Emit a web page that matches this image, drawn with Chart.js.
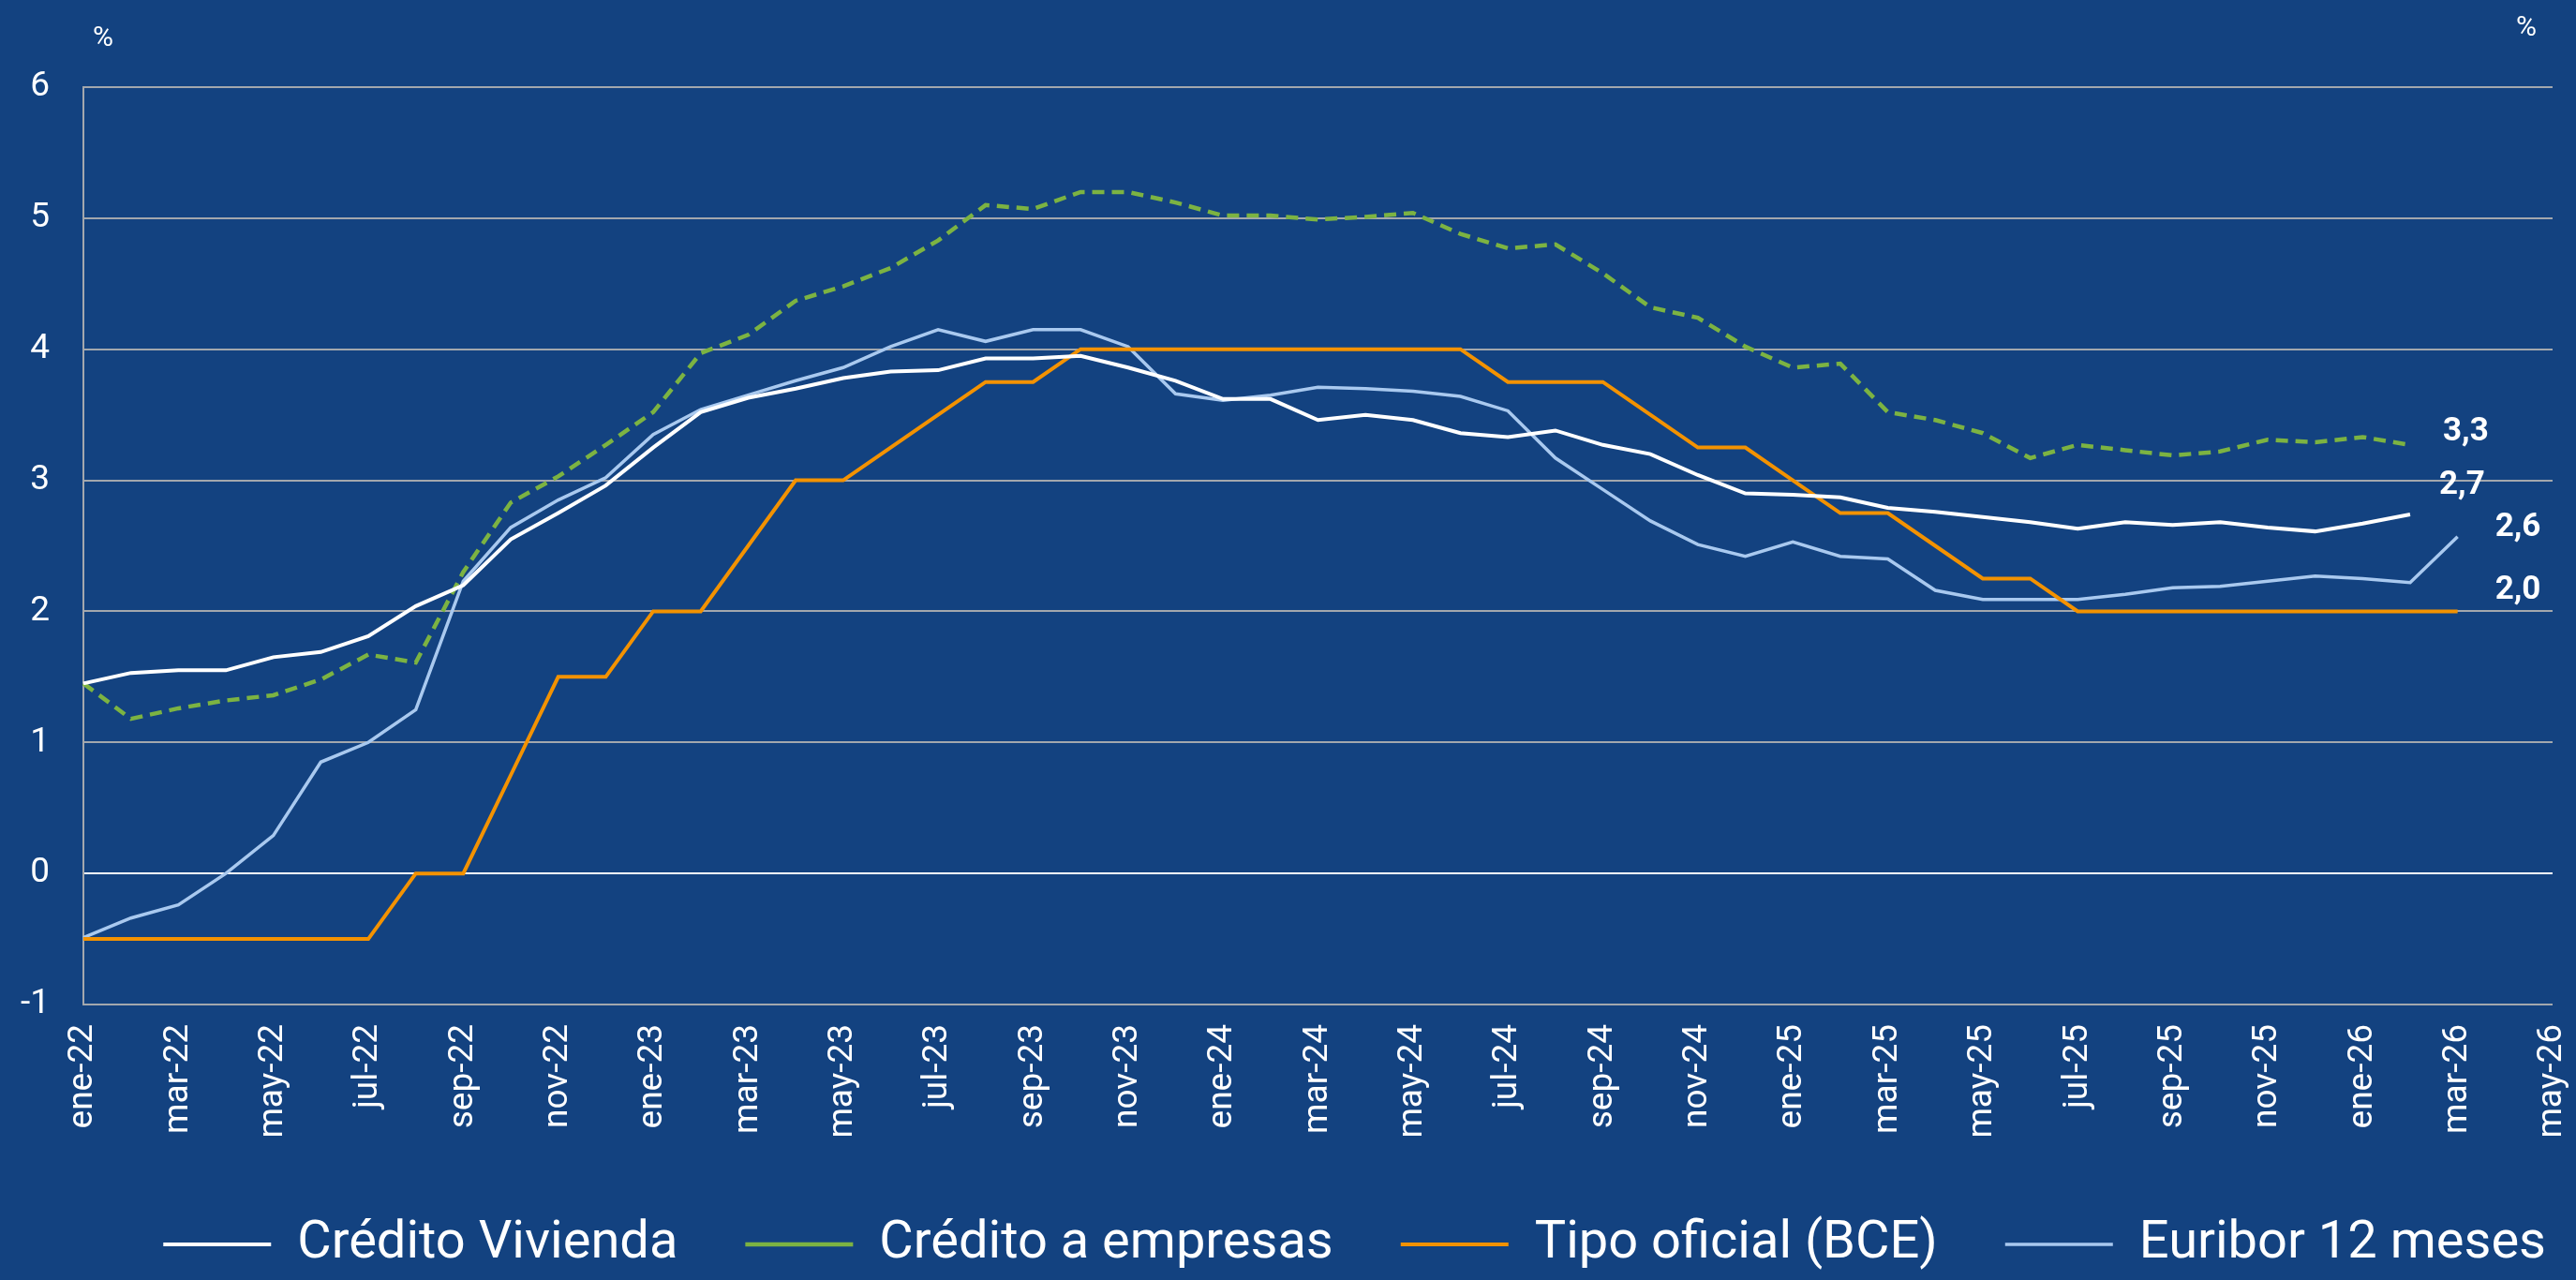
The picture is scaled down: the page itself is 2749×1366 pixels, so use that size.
<!DOCTYPE html>
<html lang="es">
<head>
<meta charset="utf-8">
<title>Tipos de interés</title>
<script src="https://cdn.jsdelivr.net/npm/chart.js@4.4.1/dist/chart.umd.min.js"></script>
<style>
  html, body { margin: 0; padding: 0; background: #134280; }
  #wrap { width: 2749px; height: 1366px; position: relative; }
</style>
</head>
<body>
<div id="wrap"><canvas id="grafico"></canvas></div>
<script>
// Meses (eje X)
const meses = [
  "ene-22","feb-22","mar-22","abr-22","may-22","jun-22","jul-22","ago-22","sep-22","oct-22","nov-22","dic-22",
  "ene-23","feb-23","mar-23","abr-23","may-23","jun-23","jul-23","ago-23","sep-23","oct-23","nov-23","dic-23",
  "ene-24","feb-24","mar-24","abr-24","may-24","jun-24","jul-24","ago-24","sep-24","oct-24","nov-24","dic-24",
  "ene-25","feb-25","mar-25","abr-25","may-25","jun-25","jul-25","ago-25","sep-25","oct-25","nov-25","dic-25",
  "ene-26","feb-26","mar-26","abr-26","may-26"
];

// Series (%)
const creditoVivienda = [
  1.45, 1.53, 1.55, 1.55, 1.65, 1.69, 1.81, 2.04, 2.20, 2.55, 2.75, 2.96,
  3.25, 3.52, 3.63, 3.70, 3.78, 3.83, 3.84, 3.93, 3.93, 3.95, 3.86, 3.76,
  3.62, 3.62, 3.46, 3.50, 3.46, 3.36, 3.33, 3.38, 3.27, 3.20, 3.04, 2.90,
  2.89, 2.87, 2.79, 2.76, 2.72, 2.68, 2.63, 2.68, 2.66, 2.68, 2.64, 2.61,
  2.67, 2.74, null, null, null
];
const creditoEmpresas = [
  1.45, 1.18, 1.26, 1.32, 1.36, 1.48, 1.67, 1.61, 2.30, 2.83, 3.03, 3.27,
  3.52, 3.97, 4.11, 4.37, 4.48, 4.62, 4.83, 5.10, 5.07, 5.20, 5.20, 5.12,
  5.02, 5.02, 4.99, 5.01, 5.04, 4.88, 4.77, 4.80, 4.58, 4.32, 4.24, 4.02,
  3.86, 3.89, 3.52, 3.46, 3.36, 3.17, 3.27, 3.23, 3.19, 3.22, 3.31, 3.29,
  3.33, 3.27, null, null, null
];
const tipoOficial = [
  -0.5, -0.5, -0.5, -0.5, -0.5, -0.5, -0.5, 0, 0, 0.75, 1.5, 1.5,
  2, 2, 2.5, 3, 3, 3.25, 3.5, 3.75, 3.75, 4, 4, 4,
  4, 4, 4, 4, 4, 4, 3.75, 3.75, 3.75, 3.5, 3.25, 3.25,
  3, 2.75, 2.75, 2.5, 2.25, 2.25, 2, 2, 2, 2, 2, 2,
  2, 2, 2, null, null
];
const euribor12 = [
  -0.49, -0.34, -0.24, 0.00, 0.29, 0.85, 1.00, 1.25, 2.23, 2.64, 2.85, 3.02,
  3.35, 3.54, 3.65, 3.76, 3.86, 4.02, 4.15, 4.06, 4.15, 4.15, 4.02, 3.66,
  3.61, 3.65, 3.71, 3.70, 3.68, 3.64, 3.53, 3.17, 2.93, 2.69, 2.51, 2.42,
  2.53, 2.42, 2.40, 2.16, 2.09, 2.09, 2.09, 2.13, 2.18, 2.19, 2.23, 2.27,
  2.25, 2.22, 2.57, null, null
];

const FONDO = "#134280";
const GRIS = "#a3a7ad";

Chart.defaults.font.family = "Roboto, 'Liberation Sans', sans-serif";
Chart.defaults.color = "#ffffff";

// fondo azul del lienzo
const fondoPlugin = {
  id: "fondo",
  beforeDraw(chart) {
    const { ctx, width, height } = chart;
    ctx.save();
    ctx.fillStyle = FONDO;
    ctx.fillRect(0, 0, width, height);
    ctx.restore();
  }
};

// desplaza un poco la leyenda hacia la derecha
const leyendaPlugin = {
  id: "leyendaDesplazada",
  afterLayout(chart, args, opts) {
    if (!chart.legend) return;
    chart.legend.left += opts.dx;
    chart.legend.right += opts.dx;
  }
};

// "%" arriba de cada eje
const unidadesPlugin = {
  id: "unidades",
  afterDraw(chart) {
    const { ctx, chartArea } = chart;
    ctx.save();
    ctx.fillStyle = "#ffffff";
    ctx.font = "30px Roboto";
    ctx.textAlign = "center";
    ctx.textBaseline = "middle";
    ctx.fillText("%", chartArea.left + 21, chartArea.top - 52);
    ctx.fillText("%", chartArea.right - 28, chartArea.top - 63);
    ctx.restore();
  }
};

// último valor de cada serie
const ultimoValorPlugin = {
  id: "ultimoValor",
  afterDatasetsDraw(chart, args, opts) {
    const { ctx } = chart;
    ctx.save();
    ctx.fillStyle = "#ffffff";
    ctx.font = "bold 35px Roboto";
    ctx.textAlign = "left";
    ctx.textBaseline = "middle";
    chart.data.datasets.forEach((ds, i) => {
      let last = ds.data.length - 1;
      while (last >= 0 && ds.data[last] == null) last--;
      if (last < 0) return;
      const pt = chart.getDatasetMeta(i).data[last];
      const off = opts.offsets[i];
      const txt = ds.data[last].toFixed(1).replace(".", ",");
      ctx.fillText(txt, pt.x + off[0], pt.y + off[1]);
    });
    ctx.restore();
  }
};

const ctx = document.getElementById("grafico").getContext("2d");

new Chart(ctx, {
  type: "line",
  data: {
    labels: meses,
    datasets: [
      {
        label: "Crédito Vivienda",
        data: creditoVivienda,
        borderColor: "#ffffff",
        backgroundColor: "#ffffff",
        borderWidth: 4
      },
      {
        label: "Crédito a empresas",
        data: creditoEmpresas,
        borderColor: "#7cb342",
        backgroundColor: "#7cb342",
        borderWidth: 4.5,
        borderDash: [13, 8]
      },
      {
        label: "Tipo oficial (BCE)",
        data: tipoOficial,
        borderColor: "#f39200",
        backgroundColor: "#f39200",
        borderWidth: 4
      },
      {
        label: "Euribor 12 meses",
        data: euribor12,
        borderColor: "#a9c9ef",
        backgroundColor: "#a9c9ef",
        borderWidth: 3.5
      }
    ]
  },
  options: {
    responsive: true,
    maintainAspectRatio: false,
    animation: false,
    elements: {
      point: { radius: 0, hoverRadius: 0 },
      line: { tension: 0, borderCapStyle: "butt" }
    },
    layout: { padding: { top: 93, right: 0, left: 0, bottom: 0 } },
    scales: {
      x: {
        offset: false,
        grid: { display: false, drawTicks: false },
        border: { display: false },
        ticks: {
          autoSkip: false,
          maxRotation: 90,
          minRotation: 90,
          padding: 21,
          color: "#ffffff",
          font: { size: 37 },
          callback: function (val, i) {
            return i % 2 === 0 ? this.getLabelForValue(val) : "";
          }
        },
        afterFit: (scale) => {
          scale.height = 156;
          scale.paddingLeft = 0;
          scale.paddingRight = 0;
        }
      },
      y: {
        min: -1,
        max: 6,
        ticks: {
          stepSize: 1,
          padding: 36,
          color: "#ffffff",
          font: { size: 37 }
        },
        grid: {
          drawTicks: false,
          lineWidth: 2,
          color: (c) => (c.tick && c.tick.value === 0 ? "#ffffff" : GRIS)
        },
        border: { display: true, color: GRIS, width: 2 },
        afterFit: (scale) => {
          scale.width = 89;
          scale.paddingTop = 0;
          scale.paddingBottom = 0;
        }
      },
      // eje derecho vacío (solo reserva el margen del "%")
      y2: {
        position: "right",
        min: -1,
        max: 6,
        grid: { display: false, drawTicks: false },
        border: { display: false },
        ticks: { display: false },
        afterFit: (scale) => { scale.width = 25; }
      }
    },
    plugins: {
      legend: {
        position: "bottom",
        align: "end",
        labels: {
          usePointStyle: true,
          pointStyle: "line",
          pointStyleWidth: 115,
          padding: 72,
          color: "#ffffff",
          font: { size: 56 }
        }
      },
      leyendaDesplazada: { dx: 40 },
      tooltip: { enabled: false },
      ultimoValor: {
        offsets: [[31, -31], [35, -14], [40, -22], [40, -9]]
      }
    }
  },
  plugins: [fondoPlugin, leyendaPlugin, ultimoValorPlugin, unidadesPlugin]
});
</script>
</body>
</html>
